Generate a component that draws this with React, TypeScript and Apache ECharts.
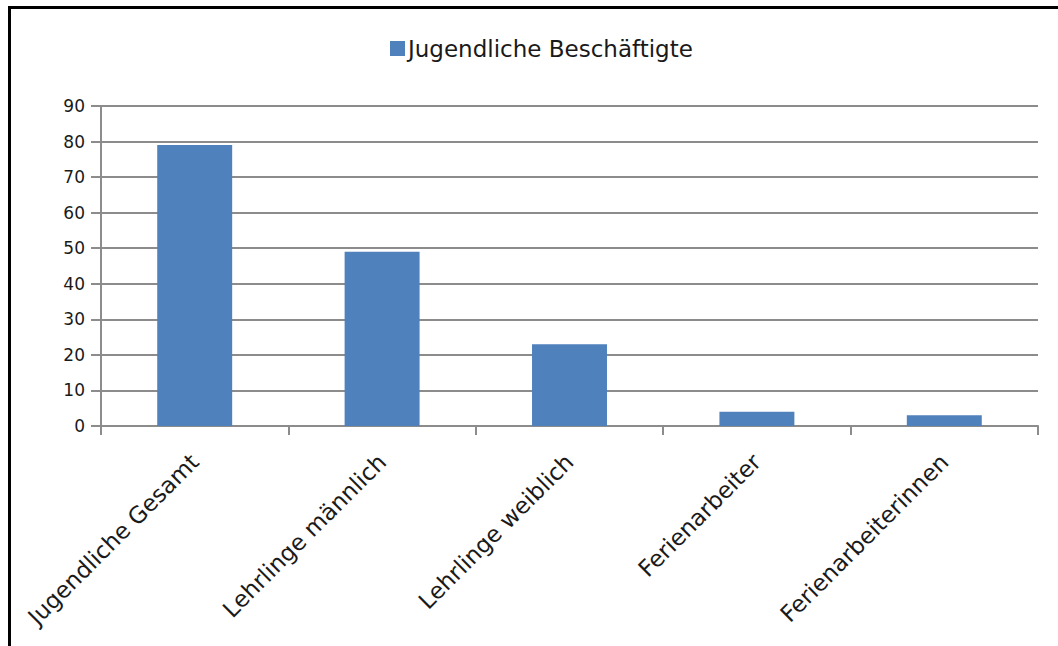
import React, { useEffect, useRef } from "react";
import * as echarts from "echarts";

const categories = [
  "Jugendliche Gesamt",
  "Lehrlinge männlich",
  "Lehrlinge weiblich",
  "Ferienarbeiter",
  "Ferienarbeiterinnen",
];
const values = [79, 49, 23, 4, 3];
const seriesName = "Jugendliche Beschäftigte";

const FONT = "DejaVu Sans";

export default function App() {
  const ref = useRef<HTMLDivElement>(null);
  useEffect(() => {
    const chart = echarts.init(ref.current!, null, { renderer: "svg" });
    chart.setOption({
      animation: false,
      backgroundColor: "#ffffff",
      textStyle: { fontFamily: FONT },
      legend: {
        top: 32,
        left: 385,
        icon: "rect",
        itemWidth: 15,
        itemHeight: 15,
        itemGap: 10,
        textStyle: { fontFamily: FONT, fontSize: 23, color: "#1a1a1a", padding: [0, 0, 0, -2] },
        data: [seriesName],
      },
      grid: { left: 101, right: 20, top: 106, bottom: 220, containLabel: false },
      xAxis: {
        type: "category",
        data: categories,
        axisLine: { lineStyle: { color: "#8c8c8c", width: 2 } },
        axisTick: { show: true, length: 9, lineStyle: { color: "#8c8c8c", width: 2 } },
        axisLabel: {
          rotate: 45,
          margin: 32,
          fontFamily: FONT,
          fontSize: 23,
          color: "#1a1a1a",
          interval: 0,
        },
      },
      yAxis: {
        type: "value",
        min: 0,
        max: 90,
        interval: 10,
        axisLine: { show: true, lineStyle: { color: "#8c8c8c", width: 2 } },
        axisTick: { show: true, length: 10, lineStyle: { color: "#8c8c8c", width: 2 } },
        axisLabel: { margin: 16, fontFamily: FONT, fontSize: 17, color: "#1a1a1a" },
        splitLine: { show: true, lineStyle: { color: "#8c8c8c", width: 2 } },
      },
      series: [
        {
          name: seriesName,
          type: "bar",
          data: values,
          barWidth: "40%",
          itemStyle: { color: "#4f81bd" },
        },
      ],
      graphic: [
        { type: "rect", shape: { x: 8, y: 6, width: 1060, height: 3 }, style: { fill: "#000" }, z: 100 },
        { type: "rect", shape: { x: 8, y: 6, width: 3, height: 660 }, style: { fill: "#000" }, z: 100 },
      ],
    });
    return () => chart.dispose();
  }, []);
  return (
    <div
      ref={ref}
      style={{ position: "absolute", left: 0, top: 0, width: 1058, height: 646 }}
    />
  );
}
